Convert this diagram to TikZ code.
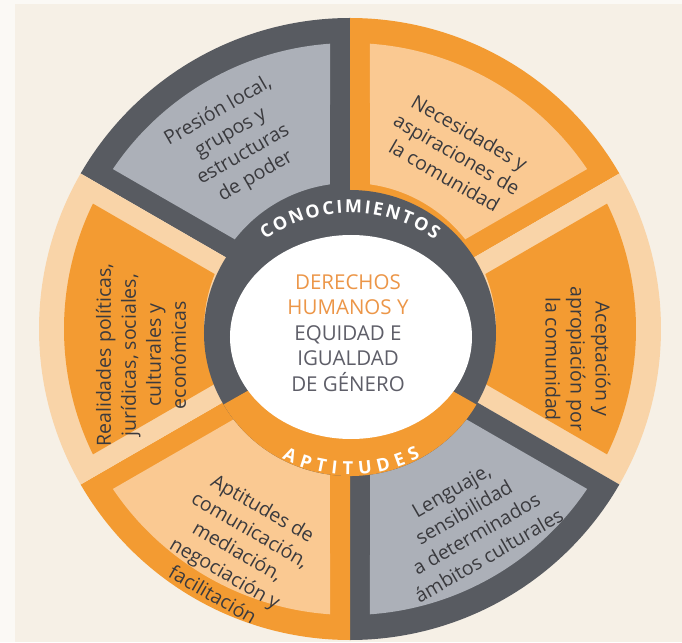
\documentclass[tikz,border=0pt]{standalone}
\usepackage{fontspec}
\setmainfont{Open Sans}
\usepackage{tikz}
\usetikzlibrary{decorations.text}
\definecolor{papercream}{RGB}{246,240,230}
\definecolor{paperwhite}{RGB}{251,249,245}
\definecolor{slatedark}{RGB}{88,91,97}
\definecolor{slatelight}{RGB}{172,176,184}
\definecolor{pumpkin}{RGB}{243,155,50}
\definecolor{apricot}{RGB}{250,201,146}
\definecolor{apricotpale}{RGB}{249,212,168}
\definecolor{inkgrey}{RGB}{58,58,62}
\definecolor{titleorange}{RGB}{236,150,72}
\definecolor{titlegrey}{RGB}{94,94,104}

\begin{document}
\begin{tikzpicture}[x=1pt,y=1pt,
	sectortext/.style={text=inkgrey,align=center,inner sep=0pt,font=\fontsize{19.5}{25}\selectfont},
	titletext/.style={text=titlegrey,align=center,inner sep=0pt,font=\fontsize{20.5}{25.5}\selectfont},
	ringtext/.style={decorate,decoration={text along path,text align={fit to path},text={|\fontsize{18}{18}\selectfont\bfseries\color{white}|#1}}}]
\useasboundingbox (-350,-313) rectangle (332,329);
\fill[papercream] (-350,-313) rectangle (332,329);
\fill[paperwhite] (-350,-313) rectangle (-335,329);
\fill[paperwhite] (-350,325) rectangle (332,329);
\fill[slatedark] (0,0) -- (90:311) arc[start angle=90, end angle=150, radius=311] -- cycle;
\fill[pumpkin] (0,0) -- (30:311) arc[start angle=30, end angle=90, radius=311] -- cycle;
\fill[apricotpale] (0,0) -- (-30:311) arc[start angle=-30, end angle=30, radius=311] -- cycle;
\fill[slatedark] (0,0) -- (-90:311) arc[start angle=-90, end angle=-30, radius=311] -- cycle;
\fill[pumpkin] (0,0) -- (-150:311) arc[start angle=-150, end angle=-90, radius=311] -- cycle;
\fill[apricotpale] (0,0) -- (150:311) arc[start angle=150, end angle=210, radius=311] -- cycle;
\fill[slatelight] (97.9:146) -- (94:286) arc[start angle=94, end angle=146, radius=286] -- (142.1:146) arc[start angle=142.1, end angle=97.9, radius=146] -- cycle;
\fill[apricot] (37.9:146) -- (34:286) arc[start angle=34, end angle=86, radius=286] -- (82.1:146) arc[start angle=82.1, end angle=37.9, radius=146] -- cycle;
\fill[pumpkin] (-22.1:146) -- (-26:286) arc[start angle=-26, end angle=26, radius=286] -- (22.1:146) arc[start angle=22.1, end angle=-22.1, radius=146] -- cycle;
\fill[slatelight] (-82.1:146) -- (-86:286) arc[start angle=-86, end angle=-34, radius=286] -- (-37.9:146) arc[start angle=-37.9, end angle=-82.1, radius=146] -- cycle;
\fill[apricot] (-142.1:146) -- (-146:286) arc[start angle=-146, end angle=-94, radius=286] -- (-97.9:146) arc[start angle=-97.9, end angle=-142.1, radius=146] -- cycle;
\fill[pumpkin] (157.9:146) -- (154:286) arc[start angle=154, end angle=206, radius=286] -- (202.1:146) arc[start angle=202.1, end angle=157.9, radius=146] -- cycle;
\fill[slatedark] (0,-4) ellipse [x radius=146, y radius=143];
\fill[pumpkin] (0,-4) -- ++(210:146 and 143) arc[start angle=210, end angle=330, x radius=146, y radius=143] -- cycle;
\fill[white] (1,-8) ellipse [x radius=121, y radius=102];
\path[ringtext=CONOCIMIENTOS] ([shift={(0,-32)}]125:148) arc[start angle=125, end angle=55, radius=148];
\path[ringtext=APTITUDES] ([shift={(0,4)}]243:150) arc[start angle=243, end angle=298, radius=150];
\node[titletext] (M) at (-2,-4) {\textcolor{titleorange}{DERECHOS}\\\textcolor{titleorange}{HUMANOS Y}\\EQUIDAD E\\IGUALDAD\\DE GÉNERO};
\node[sectortext,rotate=30] (S1) at (-113,185) {Presión local,\\grupos y\\estructuras\\de poder};
\node[sectortext,rotate=-30] (S2) at (107,175) {Necesidades y\\aspiraciones de\\la comunidad};
\node[sectortext,rotate=-90] (S3) at (228,-30) {Aceptación y\\apropiación por\\la comunidad};
\node[sectortext,rotate=30] (S4) at (120,-194) {Lenguaje,\\sensibilidad\\a determinados\\ámbitos culturales};
\node[sectortext,rotate=-30] (S5) at (-112,-222) {Aptitudes de\\comunicación,\\mediación,\\negociación y\\facilitación};
\node[sectortext,rotate=90] (S6) at (-209,-26) {Realidades políticas,\\jurídicas, sociales,\\culturales y\\económicas};
\end{tikzpicture}
\end{document}
